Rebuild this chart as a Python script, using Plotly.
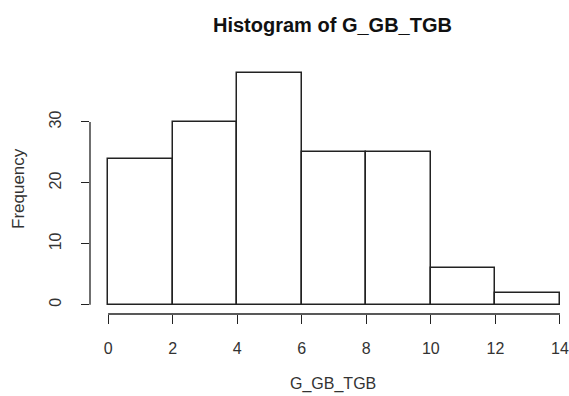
import plotly.graph_objects as go

bin_edges = [0, 2, 4, 6, 8, 10, 12, 14]
counts = [24, 30, 38, 25, 25, 6, 2]
x_ticks = [0, 2, 4, 6, 8, 10, 12, 14]
y_ticks = [0, 10, 20, 30]
title = "Histogram of G_GB_TGB"
x_label = "G_GB_TGB"
y_label = "Frequency"

centers = [(a + b) / 2 for a, b in zip(bin_edges[:-1], bin_edges[1:])]
widths = [b - a for a, b in zip(bin_edges[:-1], bin_edges[1:])]

fig = go.Figure()
fig.add_trace(go.Bar(
    x=centers, y=counts, width=widths,
    marker=dict(color="white", line=dict(color="#222", width=1.5)),
    showlegend=False, hoverinfo="skip",
))

font_family = "Liberation Sans, Arial, sans-serif"
fig.update_layout(
    width=569, height=396,
    margin=dict(l=90, r=0, t=64, b=82),
    paper_bgcolor="white", plot_bgcolor="white",
    bargap=0,
    font=dict(family=font_family, size=16, color="#333"),
    xaxis=dict(
        range=[-0.56, 14.28], tickmode="array", tickvals=x_ticks,
        ticktext=[str(v) for v in x_ticks],
        ticks="outside", ticklen=9, tickwidth=1.3, tickcolor="#222",
        ticklabelstandoff=11,
        showgrid=False, zeroline=False, showline=False,
        tickfont=dict(size=16, color="#333", family=font_family),
    ),
    yaxis=dict(
        range=[-1.52, 39.52], tickmode="array", tickvals=y_ticks,
        ticktext=[str(v) for v in y_ticks],
        ticks="outside", ticklen=8, tickwidth=1.3, tickcolor="#222",
        tickangle=-90, ticklabelstandoff=14,
        showgrid=False, zeroline=False, showline=False,
        tickfont=dict(size=16, color="#333", family=font_family),
    ),
    shapes=[
        dict(type="line", xref="x", yref="paper", x0=min(x_ticks), x1=max(x_ticks),
             y0=0, y1=0, line=dict(color="#222", width=1.3)),
        dict(type="line", xref="paper", yref="y", x0=0, x1=0,
             y0=min(y_ticks), y1=max(y_ticks), line=dict(color="#222", width=1.3)),
    ],
    annotations=[
        dict(text="<b>" + title + "</b>", xref="paper", yref="paper",
             x=0.507, y=1, yshift=39, xanchor="center", yanchor="middle",
             showarrow=False,
             font=dict(size=20, color="#111", family=font_family)),
        dict(text=x_label, xref="paper", yref="paper", x=0.507, y=0,
             yshift=-70, xanchor="center", yanchor="middle", showarrow=False,
             font=dict(size=16, color="#333", family=font_family)),
        dict(text=y_label, xref="paper", yref="paper", x=0, y=0.5,
             xshift=-72, xanchor="center", yanchor="middle", textangle=-90,
             showarrow=False,
             font=dict(size=17, color="#333", family=font_family)),
    ],
)

fig.write_html("out.html")
